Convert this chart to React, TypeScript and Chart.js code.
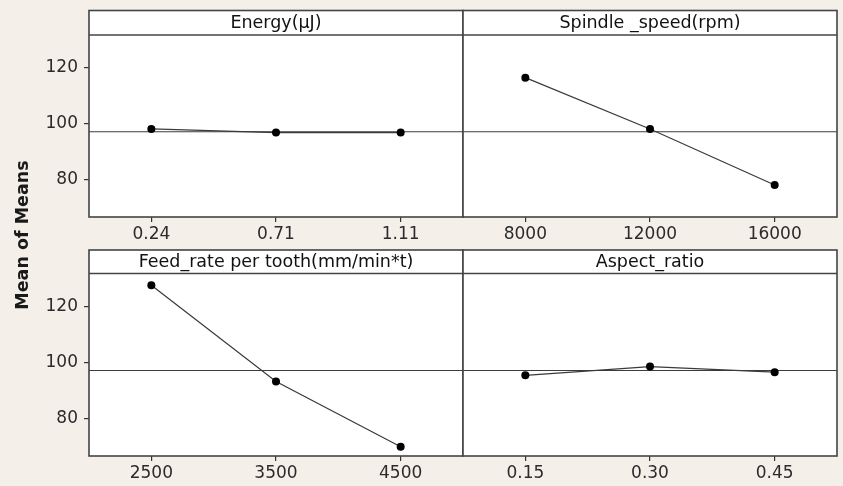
import React, { useEffect, useRef } from 'react';
import { Chart, registerables } from 'chart.js';

Chart.register(...registerables);

// ---- data ----
const energyLevels = ['0.24', '0.71', '1.11'];
const energyMeans = [98.2, 96.9, 96.9];
const spindleLevels = ['8000', '12000', '16000'];
const spindleMeans = [116.5, 98.2, 78.2];
const feedLevels = ['2500', '3500', '4500'];
const feedMeans = [127.5, 93.3, 70.1];
const aspectLevels = ['0.15', '0.30', '0.45'];
const aspectMeans = [95.5, 98.6, 96.6];
const panelTitles = ['Energy(μJ)', 'Spindle _speed(rpm)', 'Feed_rate per tooth(mm/min*t)', 'Aspect_ratio'];
const yTicks = [80, 100, 120];
const grandMean = 97.2;
const yAxisTitle = 'Mean of Means';

// ---- layout ----
const W = 843;
const H = 486;
const Y_W = 60;
const X_H = 30;
const FONT = "'DejaVu Sans', sans-serif";
const BG = '#f5efe9';
const INK = '#2b2b2b';
const Y_MIN = 66.8;
const Y_MAX = 131.7;

const panelPlugin = {
  id: 'panel',
  beforeDraw(chart: any, _args: any, opts: any) {
    const { ctx, chartArea: a } = chart;
    ctx.save();
    ctx.fillStyle = '#ffffff';
    ctx.fillRect(a.left, opts.stripTop, a.right - a.left, a.bottom - opts.stripTop);
    const y = chart.scales.y.getPixelForValue(grandMean);
    ctx.strokeStyle = '#3c3c3c';
    ctx.lineWidth = 1.2;
    ctx.beginPath();
    ctx.moveTo(a.left, y);
    ctx.lineTo(a.right, y);
    ctx.stroke();
    ctx.restore();
  },
  afterDraw(chart: any, _args: any, opts: any) {
    const { ctx, chartArea: a } = chart;
    ctx.save();
    ctx.strokeStyle = '#444444';
    ctx.lineWidth = 1.6;
    ctx.strokeRect(a.left, opts.stripTop, a.right - a.left, a.bottom - opts.stripTop);
    ctx.beginPath();
    ctx.moveTo(a.left, a.top);
    ctx.lineTo(a.right, a.top);
    ctx.stroke();
    ctx.fillStyle = '#111';
    ctx.font = `17.5px ${FONT}`;
    ctx.textAlign = 'center';
    ctx.textBaseline = 'middle';
    ctx.fillText(opts.title, (a.left + a.right) / 2, (opts.stripTop + a.top) / 2 + 0.5);
    if (opts.yTitle) {
      ctx.translate(23, 235);
      ctx.rotate(-Math.PI / 2);
      ctx.font = `bold 17.5px ${FONT}`;
      ctx.fillStyle = '#1a1a1a';
      ctx.fillText(opts.yTitle, 0, 0);
    }
    ctx.restore();
  },
};

const panels = [
  { title: panelTitles[0], labels: energyLevels, means: energyMeans, left: 89, right: 463, stripTop: 10.5, top: 35, bottom: 217, showY: true, yTitle: yAxisTitle },
  { title: panelTitles[1], labels: spindleLevels, means: spindleMeans, left: 463, right: 837, stripTop: 10.5, top: 35, bottom: 217, showY: false, yTitle: '' },
  { title: panelTitles[2], labels: feedLevels, means: feedMeans, left: 89, right: 463, stripTop: 250, top: 273.5, bottom: 456, showY: true, yTitle: '' },
  { title: panelTitles[3], labels: aspectLevels, means: aspectMeans, left: 463, right: 837, stripTop: 250, top: 273.5, bottom: 456, showY: false, yTitle: '' },
];

export default function App() {
  const refs = [useRef<HTMLCanvasElement>(null), useRef<HTMLCanvasElement>(null), useRef<HTMLCanvasElement>(null), useRef<HTMLCanvasElement>(null)];

  useEffect(() => {
    const charts = panels.map((p, i) => {
      const canvas = refs[i].current as HTMLCanvasElement;
      return new Chart(canvas, {
        type: 'line',
        data: {
          labels: p.labels,
          datasets: [
            {
              data: p.means,
              borderColor: '#3a3a3a',
              borderWidth: 1.2,
              pointRadius: 4,
              pointBackgroundColor: '#000',
              pointBorderColor: '#000',
              pointBorderWidth: 0,
              tension: 0,
              fill: false,
            },
          ],
        },
        options: {
          responsive: false,
          maintainAspectRatio: false,
          animation: false,
          events: [],
          layout: {
            padding: {
              left: p.left - (p.showY ? Y_W : 0),
              right: W - p.right,
              top: p.top,
              bottom: H - p.bottom - X_H,
            },
          },
          plugins: {
            legend: { display: false },
            tooltip: { enabled: false },
            title: { display: false },
            panel: { title: p.title, stripTop: p.stripTop, yTitle: p.yTitle },
          } as any,
          scales: {
            x: {
              type: 'category',
              offset: true,
              grid: { offset: false, drawOnChartArea: false, drawTicks: true, tickLength: 5, color: '#333', lineWidth: 1.2 },
              border: { display: false },
              ticks: { color: INK, font: { family: FONT, size: 17 }, padding: 2, maxRotation: 0, autoSkip: false },
              afterFit: (s: any) => {
                s.height = X_H;
              },
            },
            y: {
              display: p.showY,
              min: Y_MIN,
              max: Y_MAX,
              afterBuildTicks: (s: any) => {
                s.ticks = yTicks.map((v) => ({ value: v }));
              },
              grid: { drawOnChartArea: false, drawTicks: true, tickLength: 5, color: '#333', lineWidth: 1.2 },
              border: { display: false },
              ticks: { color: INK, font: { family: FONT, size: 17 }, padding: 6 },
              afterFit: (s: any) => {
                s.width = p.showY ? Y_W : 0;
              },
            },
          },
        } as any,
        plugins: [panelPlugin],
      });
    });
    return () => charts.forEach((c) => c.destroy());
  }, []);

  return (
    <div style={{ position: 'absolute', left: 0, top: 0, width: W, height: H, background: BG, overflow: 'hidden' }}>
      {panels.map((_, i) => (
        <canvas
          key={i}
          ref={refs[i]}
          width={W}
          height={H}
          style={{ position: 'absolute', left: 0, top: 0, width: W, height: H, display: 'block' }}
        />
      ))}
    </div>
  );
}
